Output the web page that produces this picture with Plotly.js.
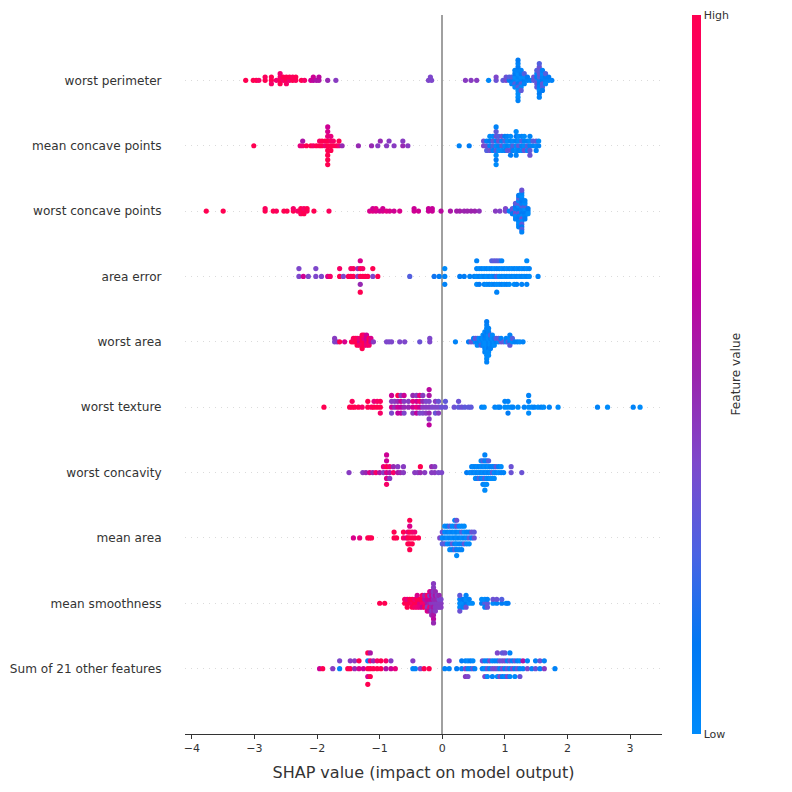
<!DOCTYPE html>
<html>
<head>
<meta charset="utf-8">
<script src="https://cdn.plot.ly/plotly-3.0.1.min.js"></script>
<style>html,body{margin:0;padding:0;background:#fff;}#chart{width:792px;height:792px;}</style>
</head>
<body>
<div id="chart"></div>
<script>
// Feature names, top to bottom
const featureNames = ['worst perimeter','mean concave points','worst concave points','area error','worst area','worst texture','worst concavity','mean area','mean smoothness','Sum of 21 other features'];

// SHAP values (x) and normalized feature values (colour) per feature
const shapWorstPerimeter = [
-3.14,-3.02,-2.97,-2.93,-2.83,-2.83,-2.73,-2.73,-2.73,-2.65,
-2.59,-2.59,-2.59,-2.59,-2.54,-2.54,-2.49,-2.49,-2.49,-2.44,
-2.44,-2.39,-2.39,-2.34,-2.34,-2.25,-2.20,-2.10,-2.06,-2.06,
-2.01,-1.97,-1.97,-1.83,-1.70,
-0.22,-0.19,-0.17,
0.37,0.46,0.55,0.74,0.86,0.86,0.97,1.02,1.02,1.07,1.07,
1.11,1.11,1.11,
1.16,1.16,1.16,1.16,1.16,1.16,
1.21,1.21,1.21,1.21,1.21,1.21,1.21,1.21,1.21,1.21,1.21,1.21,1.21,
1.26,1.26,1.26,1.26,1.26,1.26,1.26,
1.31,1.31,1.31,1.31,
1.36,1.36,
1.41,
1.46,1.46,
1.51,1.51,1.51,1.51,1.51,1.51,
1.55,1.55,1.55,1.55,1.55,1.55,1.55,1.55,1.55,1.55,1.55,
1.60,1.60,1.60,1.60,1.60,1.60,1.60,
1.65,1.65,1.65,1.65,
1.70,1.70,
1.75];
const valWorstPerimeter = [
1.0,1.0,1.0,0.9,1.0,0.95,1.0,1.0,0.9,0.85,
1.0,0.9,1.0,0.85,0.9,1.0,1.0,1.0,0.9,0.85,
1.0,1.0,0.95,0.95,1.0,1.0,0.9,0.67,0.6,0.67,
0.55,0.55,0.6,0.48,0.42,
0.38,0.38,0.38,
0.42,0.42,0.42,0.02,0.33,0.38,0.3,0.38,0.33,0.1,0.27,
0.1,0.27,0.05,
0.05,0.0,0.27,0.1,0.0,0.05,
0.0,0.05,0.1,0.0,0.27,0.05,0.0,0.1,0.0,0.05,0.0,0.1,0.05,
0.05,0.0,0.27,0.1,0.0,0.05,0.3,
0.1,0.0,0.05,0.27,
0.05,0.1,
0.05,
0.3,0.33,
0.27,0.1,0.33,0.05,0.3,0.27,
0.05,0.27,0.1,0.33,0.05,0.3,0.0,0.33,0.1,0.27,0.05,
0.1,0.05,0.3,0.0,0.27,0.05,0.1,
0.05,0.1,0.0,0.27,
0.05,0.1,
0.05];

const shapMeanConcavePoints = [
-3.01,-2.27,-2.23,-2.23,-2.17,-2.10,-2.06,-2.01,-1.96,-1.96,-1.92,-1.92,-1.87,-1.87,
-1.83,-1.83,-1.83,-1.83,-1.83,-1.83,-1.83,-1.83,-1.83,
-1.78,-1.78,-1.78,-1.78,-1.74,-1.74,-1.69,-1.65,-1.65,-1.60,
-1.34,-1.13,-1.03,-0.99,-0.89,-0.85,-0.77,-0.63,-0.63,-0.55,
0.27,0.43,0.66,0.66,0.71,0.71,0.71,0.76,0.76,0.76,0.76,0.81,0.81,0.81,0.81,
0.86,0.86,0.86,0.86,0.86,0.86,0.86,0.86,0.86,
0.90,0.90,0.90,0.90,0.95,0.95,0.95,0.95,1.00,1.00,1.00,1.00,1.04,1.04,1.04,1.04,
1.09,1.09,1.09,1.09,1.09,1.13,1.13,1.13,1.18,1.18,1.18,1.18,1.18,1.18,
1.22,1.22,1.22,1.22,1.27,1.27,1.27,1.27,1.31,1.31,1.31,1.31,1.36,1.36,1.36,
1.40,1.40,1.40,1.40,1.40,1.45,1.45,1.50,1.50,1.50,1.54,1.54];
const valMeanConcavePoints = [
1.0,0.8,0.85,0.55,1.0,1.0,0.9,1.0,1.0,0.9,1.0,1.0,0.85,1.0,
1.0,1.0,1.0,0.8,1.0,0.72,1.0,0.67,1.0,
1.0,0.9,1.0,0.8,1.0,0.9,1.0,0.85,1.0,0.48,
0.48,0.48,0.42,0.48,0.42,0.42,0.42,0.48,0.42,0.42,
0.05,0.1,0.38,0.33,0.33,0.05,0.27,0.05,0.1,0.33,0.0,0.27,0.3,0.05,0.0,
0.0,0.05,0.27,0.33,0.0,0.3,0.1,0.05,0.0,
0.05,0.33,0.0,0.27,0.3,0.05,0.0,0.33,0.0,0.27,0.05,0.1,0.05,0.0,0.3,0.05,
0.0,0.05,0.33,0.0,0.1,0.27,0.0,0.05,0.0,0.05,0.0,0.1,0.05,0.0,
0.3,0.0,0.05,0.0,0.05,0.27,0.0,0.05,0.0,0.05,0.33,0.0,0.27,0.05,0.0,
0.05,0.0,0.3,0.05,0.33,0.05,0.27,0.0,0.3,0.05,0.05,0.0];

const shapWorstConcavePoints = [
-3.77,-3.50,-2.83,-2.83,-2.70,-2.65,-2.53,-2.48,-2.38,-2.38,-2.31,-2.26,-2.26,-2.26,-2.21,-2.21,-2.21,-2.16,-2.16,-2.05,-1.81,
-1.16,-1.11,-1.11,-1.06,-1.06,-1.00,-0.95,-0.95,-0.89,-0.84,-0.77,-0.68,-0.45,-0.45,-0.38,-0.22,-0.22,-0.16,-0.16,-0.02,
0.13,0.23,0.28,0.35,0.40,0.46,0.52,0.59,0.85,0.92,1.01,1.01,1.07,
1.12,1.12,1.12,
1.17,1.17,1.17,1.17,1.17,1.17,1.17,
1.22,1.22,1.22,1.22,1.22,1.22,1.22,1.22,1.22,1.22,1.22,1.22,1.22,
1.27,1.27,1.27,1.27,1.27,1.27,1.27,1.27,1.27,1.27,1.27,1.27,1.27,1.27,1.27,1.27,1.27,
1.32,1.32,1.32,1.32,1.32,1.32,1.32,1.32,
1.37,1.37,1.37];
const valWorstConcavePoints = [
1.0,1.0,1.0,0.95,1.0,0.95,1.0,1.0,1.0,0.9,0.9,1.0,1.0,0.95,1.0,0.9,1.0,0.95,1.0,1.0,0.95,
0.72,0.76,0.68,0.72,0.76,0.68,0.72,0.68,0.76,0.72,0.68,0.72,0.68,0.66,0.68,0.66,0.64,0.66,0.64,0.6,
0.55,0.52,0.52,0.5,0.5,0.5,0.5,0.46,0.42,0.4,0.38,0.38,0.05,
0.33,0.3,0.1,
0.27,0.05,0.33,0.1,0.0,0.3,0.05,
0.05,0.1,0.33,0.0,0.05,0.3,0.1,0.0,0.05,0.27,0.0,0.1,0.05,
0.0,0.05,0.1,0.27,0.0,0.05,0.33,0.1,0.0,0.05,0.3,0.0,0.1,0.05,0.27,0.33,0.05,
0.05,0.0,0.1,0.27,0.05,0.0,0.1,0.05,
0.05,0.1,0.0];

const shapAreaError = [
-2.29,-2.29,-2.22,-2.14,-2.02,-2.02,-1.93,-1.83,-1.79,-1.64,-1.64,-1.58,-1.50,-1.46,-1.46,-1.42,-1.42,-1.35,-1.35,
-1.31,-1.31,-1.31,-1.31,-1.31,-1.27,-1.27,-1.23,-1.19,-1.11,-1.11,-1.03,
-0.52,-0.13,-0.05,0.04,0.04,0.04,
0.28,0.35,0.44,0.51,
0.55,0.55,0.55,0.55,0.59,0.59,0.59,0.63,0.63,0.67,0.67,0.67,0.71,0.71,0.71,0.75,0.75,0.75,
0.79,0.79,0.79,0.79,0.83,0.83,0.83,0.83,0.87,0.87,0.87,0.87,0.87,0.91,0.91,0.91,0.91,
0.95,0.95,0.95,0.95,0.99,0.99,0.99,1.03,1.03,1.03,1.07,1.07,1.07,1.11,1.11,
1.15,1.15,1.15,1.19,1.19,1.19,1.23,1.23,1.27,1.27,1.27,1.31,1.31,1.35,1.35,1.35,1.35,1.39,1.39,
1.53];
const valAreaError = [
0.38,0.38,0.67,0.38,0.38,0.38,0.38,0.72,0.9,1.0,0.9,0.38,0.95,1.0,0.9,1.0,0.95,0.42,0.48,
1.0,1.0,0.48,0.72,1.0,1.0,0.9,1.0,1.0,0.38,1.0,1.0,
0.27,0.15,0.1,0.05,0.0,0.05,
0.1,0.1,0.05,0.05,
0.0,0.05,0.0,0.05,0.05,0.0,0.1,0.0,0.05,0.05,0.0,0.05,0.0,0.05,0.0,0.05,0.0,0.05,
0.0,0.05,0.0,0.27,0.05,0.0,0.05,0.3,0.27,0.05,0.0,0.3,0.05,0.0,0.05,0.0,0.27,
0.05,0.0,0.05,0.05,0.0,0.05,0.0,0.05,0.0,0.05,0.0,0.05,0.0,0.05,0.0,
0.0,0.05,0.0,0.05,0.0,0.05,0.0,0.05,0.05,0.0,0.05,0.0,0.05,0.05,0.0,0.05,0.0,0.0,0.05,
0.05];

const shapWorstArea = [
-1.72,-1.72,-1.68,-1.64,-1.56,-1.45,-1.42,-1.42,-1.39,-1.39,-1.36,-1.36,-1.36,-1.32,-1.32,-1.32,
-1.28,-1.28,-1.28,-1.28,-1.28,-1.25,-1.25,-1.25,-1.25,-1.21,-1.21,-1.21,-1.21,-1.17,-1.17,-1.17,-1.14,-1.14,-1.10,
-0.89,-0.85,-0.81,-0.68,-0.60,-0.36,-0.20,-0.20,
0.21,0.42,0.46,0.50,0.50,0.53,0.53,0.56,0.56,0.56,0.59,0.59,0.62,0.62,0.62,0.65,0.65,0.65,0.65,
0.68,0.68,0.68,0.68,0.68,0.68,0.68,
0.71,0.71,0.71,0.71,0.71,0.71,0.71,0.71,0.71,0.71,0.71,0.71,0.71,
0.74,0.74,0.74,0.74,0.74,0.74,0.74,0.74,0.74,
0.77,0.77,0.77,0.77,0.77,0.80,0.80,0.80,0.80,0.83,0.83,0.83,0.86,0.86,
0.90,0.90,0.94,0.94,0.98,1.02,1.02,1.05,1.08,1.08,1.08,1.08,1.12,1.12,1.16,1.20,1.24,1.29];
const valWorstArea = [
0.38,0.42,0.42,1.0,0.72,1.0,1.0,0.9,1.0,1.0,1.0,0.95,1.0,0.67,0.8,0.9,
1.0,1.0,0.9,1.0,1.0,1.0,0.8,1.0,0.9,0.72,0.67,0.8,0.67,1.0,1.0,0.9,0.67,0.72,0.42,
0.38,0.38,0.38,0.38,0.38,0.33,0.38,0.38,
0.05,0.1,0.33,0.3,0.05,0.0,0.33,0.05,0.27,0.0,0.05,0.0,0.0,0.05,0.27,0.05,0.0,0.05,0.0,
0.0,0.05,0.0,0.1,0.05,0.0,0.05,
0.0,0.05,0.0,0.05,0.0,0.1,0.0,0.05,0.0,0.05,0.0,0.1,0.05,
0.05,0.0,0.05,0.0,0.1,0.05,0.0,0.05,0.0,
0.0,0.05,0.0,0.27,0.05,0.05,0.0,0.05,0.0,0.0,0.05,0.0,0.05,0.27,
0.0,0.3,0.33,0.05,0.3,0.0,0.05,0.27,0.05,0.0,0.3,0.05,0.0,0.27,0.05,0.05,0.0,0.05];

const shapWorstTexture = [
-1.89,-1.48,-1.44,-1.44,-1.40,-1.34,-1.28,-1.19,-1.19,-1.13,-1.09,-1.09,-1.04,-1.04,-0.99,-0.99,-0.99,
-0.81,-0.81,-0.81,-0.81,-0.76,-0.76,-0.71,-0.71,-0.71,-0.71,-0.66,-0.66,-0.66,-0.66,-0.61,-0.61,-0.61,-0.61,
-0.54,-0.54,-0.47,-0.47,-0.47,-0.47,-0.41,-0.41,-0.41,-0.41,-0.36,-0.36,-0.36,-0.36,-0.31,-0.31,-0.31,-0.31,
-0.26,-0.26,-0.26,-0.21,-0.21,-0.21,-0.21,-0.21,-0.21,-0.21,-0.16,-0.11,-0.11,-0.11,-0.06,-0.06,-0.06,-0.01,
0.05,0.05,0.19,0.26,0.26,0.31,0.36,0.42,0.46,
0.63,0.67,0.84,0.89,0.92,1.00,1.00,1.05,1.05,1.05,1.10,1.13,1.21,1.31,1.38,1.38,1.38,1.38,
1.43,1.47,1.53,1.58,1.62,1.71,1.85,2.48,2.64,3.05,3.16];
const valWorstTexture = [
1.0,1.0,1.0,0.95,1.0,1.0,0.9,1.0,1.0,0.95,1.0,0.8,1.0,0.9,1.0,0.95,0.9,
0.67,0.42,0.38,0.67,0.48,0.42,0.67,0.48,0.62,1.0,0.62,0.67,0.62,0.42,0.48,0.42,0.38,0.67,
0.48,0.42,0.67,0.8,0.42,0.48,0.8,0.67,0.62,0.42,0.67,0.85,0.38,0.8,0.42,0.48,0.38,0.42,
0.42,0.38,0.42,0.42,0.38,0.48,0.55,0.42,0.6,0.62,0.38,0.38,0.42,0.33,0.38,0.33,0.42,0.33,
0.33,0.3,0.33,0.3,0.33,0.33,0.3,0.3,0.3,
0.05,0.0,0.05,0.0,0.05,0.0,0.05,0.0,0.05,0.1,0.0,0.05,0.0,0.05,0.0,0.05,0.0,0.05,
0.0,0.05,0.0,0.05,0.0,0.05,0.0,0.05,0.0,0.05,0.0];

const shapWorstConcavity = [
-1.49,-1.27,-1.22,-1.16,-1.11,-1.06,-1.00,-0.94,-0.94,
-0.89,-0.89,-0.89,-0.89,-0.89,-0.89,-0.84,-0.84,-0.84,-0.78,-0.78,-0.71,-0.71,-0.67,-0.62,-0.62,
-0.44,-0.39,-0.35,-0.35,-0.28,-0.17,-0.17,-0.12,-0.12,-0.06,-0.01,
0.39,0.44,0.47,0.47,0.50,0.50,0.53,0.53,0.53,0.56,0.56,0.56,0.59,0.59,0.59,0.62,0.62,0.62,0.62,
0.65,0.65,0.65,0.65,0.65,0.68,0.68,0.68,0.68,0.68,0.68,0.68,0.71,0.71,0.71,0.71,0.71,
0.74,0.74,0.74,0.74,0.77,0.77,0.77,0.80,0.80,0.80,0.83,0.83,0.83,0.86,0.86,0.90,0.90,0.94,0.94,0.98,
1.10,1.10,1.27];
const valWorstConcavity = [
0.42,0.42,0.48,0.72,0.48,0.9,0.55,0.42,0.8,
0.72,1.0,0.72,0.67,0.9,0.67,0.55,0.85,0.42,0.9,0.48,0.55,0.42,0.48,0.42,0.42,
0.42,0.42,0.48,1.0,0.42,0.42,0.48,0.42,0.42,0.38,0.38,
0.1,0.05,0.0,0.05,0.05,0.0,0.0,0.05,0.0,0.05,0.0,0.05,0.0,0.05,0.27,0.05,0.0,0.05,0.0,
0.0,0.05,0.0,0.27,0.05,0.05,0.0,0.3,0.05,0.0,0.05,0.0,0.0,0.05,0.0,0.05,0.0,
0.05,0.0,0.05,0.27,0.0,0.05,0.0,0.3,0.05,0.0,0.0,0.05,0.0,0.05,0.3,0.0,0.05,0.05,0.0,0.05,
0.33,0.33,0.33];

const shapMeanArea = [
-1.42,-1.32,-1.19,-1.16,-1.13,-0.77,-0.77,-0.73,-0.62,-0.62,-0.57,
-0.55,-0.55,-0.55,-0.52,-0.52,-0.52,-0.52,-0.52,-0.52,-0.48,-0.48,-0.48,-0.44,-0.44,-0.38,
-0.04,0.00,0.00,0.00,0.04,0.04,0.04,0.04,0.08,0.08,0.08,0.08,0.12,0.12,0.12,0.12,0.12,
0.16,0.16,0.16,0.16,0.16,0.20,0.20,0.20,0.20,0.20,0.20,0.23,0.23,0.23,0.23,0.23,0.23,0.23,
0.27,0.27,0.27,0.27,0.27,0.31,0.31,0.31,0.31,0.31,0.35,0.35,0.35,0.35,0.39,0.39,0.39,
0.43,0.43,0.43,0.47,0.47,0.51,0.51];
const valMeanArea = [
0.72,0.8,1.0,1.0,1.0,1.0,1.0,1.0,0.9,1.0,0.72,
1.0,0.8,1.0,1.0,1.0,1.0,0.72,1.0,1.0,1.0,0.9,1.0,1.0,0.85,1.0,
0.38,0.0,0.33,0.27,0.05,0.0,0.3,0.0,0.0,0.05,0.0,0.05,0.05,0.0,0.05,0.27,0.0,
0.0,0.05,0.3,0.0,0.05,0.05,0.0,0.05,0.0,0.3,0.05,0.0,0.05,0.0,0.33,0.05,0.33,0.0,
0.05,0.0,0.05,0.0,0.05,0.0,0.27,0.05,0.0,0.05,0.05,0.0,0.3,0.0,0.0,0.05,0.0,
0.3,0.05,0.0,0.05,0.33,0.33,0.3];

const shapMeanSmoothness = [
-1.00,-0.92,-0.60,-0.60,-0.56,-0.56,-0.56,-0.52,-0.52,-0.48,-0.48,-0.48,-0.44,-0.44,-0.44,
-0.40,-0.40,-0.40,-0.40,-0.36,-0.36,-0.36,-0.32,-0.32,-0.32,-0.32,-0.28,-0.28,-0.28,-0.28,
-0.24,-0.24,-0.24,-0.24,-0.24,-0.20,-0.20,-0.20,-0.20,-0.20,-0.20,
-0.17,-0.17,-0.17,-0.17,-0.17,-0.17,-0.17,
-0.14,-0.14,-0.14,-0.14,-0.14,-0.14,-0.14,-0.14,-0.14,-0.14,-0.14,
-0.11,-0.11,-0.11,-0.11,-0.11,-0.11,-0.08,-0.08,-0.08,-0.08,-0.05,-0.05,-0.05,-0.05,-0.02,-0.02,-0.02,
0.28,0.28,0.28,0.28,0.28,0.33,0.33,0.33,0.38,0.38,0.38,0.38,0.43,0.43,0.48,
0.63,0.63,0.68,0.68,0.68,0.72,0.72,0.72,0.81,0.81,0.87,0.87,0.95,0.95,1.02,1.05];
const valMeanSmoothness = [
1.0,1.0,1.0,0.9,1.0,0.8,1.0,1.0,1.0,0.9,1.0,1.0,1.0,0.85,0.9,
1.0,1.0,0.85,0.72,0.72,1.0,0.8,0.9,1.0,0.67,0.9,0.85,0.55,1.0,0.48,
0.55,0.67,0.42,0.9,0.72,0.48,0.67,0.85,0.42,0.55,0.72,
0.42,0.6,0.48,0.67,0.42,0.55,0.48,
0.42,0.48,0.55,0.42,0.48,0.42,0.55,0.42,0.6,0.42,0.48,
0.42,0.48,0.42,0.55,0.42,0.48,0.42,0.48,0.42,0.42,0.42,0.38,0.42,0.48,0.42,0.38,0.42,
0.0,0.05,0.0,0.3,0.33,0.0,0.1,0.05,0.1,0.0,0.33,0.05,0.0,0.05,0.0,
0.1,0.0,0.27,0.0,0.05,0.3,0.05,0.33,0.0,0.33,0.05,0.33,0.1,0.27,0.05,0.1];

const shapOtherFeatures = [
-1.96,-1.91,-1.75,-1.64,-1.64,-1.51,-1.47,-1.47,-1.40,-1.40,-1.33,-1.33,-1.26,
-1.19,-1.19,-1.19,-1.19,-1.19,-1.15,-1.15,-1.15,-1.15,-1.10,-1.10,-1.04,-1.04,-0.98,-0.98,-0.90,-0.90,-0.82,-0.82,-0.75,
-0.47,-0.47,-0.43,-0.35,-0.29,-0.21,
0.04,0.11,0.11,0.23,0.31,0.31,0.37,0.37,0.37,0.41,0.41,0.41,0.45,0.45,0.49,0.49,0.52,
0.64,0.64,0.68,0.68,0.68,0.72,0.72,0.72,0.76,0.76,0.80,0.80,0.80,0.84,0.84,0.88,0.88,0.88,0.88,
0.92,0.92,0.92,0.96,0.96,0.96,0.96,1.00,1.00,1.00,1.00,1.04,1.04,1.04,1.08,1.08,1.08,1.08,
1.12,1.12,1.16,1.16,1.16,1.20,1.20,1.24,1.24,1.24,1.29,1.29,
1.36,1.36,1.43,1.49,1.49,1.56,1.56,1.63,1.63,1.80];
const valOtherFeatures = [
0.67,1.0,0.42,0.05,0.38,1.0,1.0,0.42,0.48,0.42,0.72,1.0,0.67,
1.0,0.05,0.72,1.0,1.0,1.0,0.85,1.0,0.55,1.0,0.48,1.0,0.9,1.0,1.0,0.55,0.9,0.67,0.42,0.8,
0.05,0.42,0.05,0.38,1.0,1.0,
0.05,0.05,0.42,0.1,0.05,0.1,0.38,0.05,0.42,0.05,0.0,0.38,0.05,0.1,0.33,0.0,0.05,
0.05,0.33,0.0,0.05,0.38,0.33,0.05,0.0,0.05,0.38,0.33,0.0,0.05,0.38,0.05,0.33,0.05,0.0,0.38,
0.05,0.33,0.38,0.38,0.33,0.05,0.3,0.05,0.38,0.0,0.33,0.33,0.05,0.38,0.05,0.33,0.0,0.05,
0.38,0.05,0.05,0.33,0.0,0.33,0.05,0.05,0.0,0.33,0.05,0.55,
0.38,0.05,0.05,0.33,0.05,0.05,0.33,0.42,0.05,0.05];

const shapByFeature = [shapWorstPerimeter, shapMeanConcavePoints, shapWorstConcavePoints, shapAreaError, shapWorstArea,
  shapWorstTexture, shapWorstConcavity, shapMeanArea, shapMeanSmoothness, shapOtherFeatures];
const valByFeature = [valWorstPerimeter, valMeanConcavePoints, valWorstConcavePoints, valAreaError, valWorstArea,
  valWorstTexture, valWorstConcavity, valMeanArea, valMeanSmoothness, valOtherFeatures];

// SHAP red_blue colormap (LCH interpolation, sampled)
const redBlue = [
  [0.0,'rgb(0,139,251)'],[0.125,'rgb(0,120,243)'],[0.25,'rgb(75,99,227)'],[0.375,'rgb(125,73,204)'],
  [0.5,'rgb(155,35,173)'],[0.625,'rgb(194,0,156)'],[0.75,'rgb(224,0,134)'],[0.875,'rgb(245,0,109)'],[1.0,'rgb(255,0,81)']];

// beeswarm layout, as in shap's summary plot
function swarmOffsets(xs, rowHeight) {
  const N = xs.length, nbins = 100;
  const mn = Math.min(...xs), mx = Math.max(...xs);
  const quant = xs.map(v => Math.round(nbins * (v - mn) / (mx - mn + 1e-8)));
  const inds = xs.map((_, i) => i).sort((a, b) => (quant[a] - quant[b]) || (a - b));
  const ys = new Array(N).fill(0);
  let layer = 0, last = -1;
  for (const i of inds) {
    if (quant[i] !== last) layer = 0;
    ys[i] = Math.ceil(layer / 2) * ((layer % 2) * 2 - 1);
    layer++;
    last = quant[i];
  }
  const m = Math.max(...ys.map(y => y + 1));
  return ys.map(y => y * 0.9 * (rowHeight / m));
}

const nF = featureNames.length;
const traces = [];
featureNames.forEach((name, i) => {
  const xs = shapByFeature[i];
  let cs = valByFeature[i].slice();
  if (cs.length !== xs.length) { console.warn(name, xs.length, cs.length); while (cs.length < xs.length) cs.push(0.5); cs = cs.slice(0, xs.length); }
  const pos = nF - 1 - i;
  const off = swarmOffsets(xs, 0.4);
  const t = {
    type: 'scatter', mode: 'markers', x: xs, y: off.map(o => pos + o),
    hoverinfo: 'skip', showlegend: false,
    marker: { size: 5.2, color: cs, colorscale: redBlue, cmin: 0, cmax: 1, line: { width: 0 }, showscale: i === 0 }
  };
  if (i === 0) {
    t.marker.colorbar = {
      x: 1.063, xanchor: 'left', y: 0.5, yanchor: 'middle', len: 1, lenmode: 'fraction',
      thickness: 9, thicknessmode: 'pixels', xpad: 0, ypad: 0, outlinewidth: 0,
      tickvals: [0, 1], ticktext: ['Low', 'High'], ticks: '', tickfont: { size: 11, color: '#333' }
    };
  }
  traces.push(t);
});

const layout = {
  width: 792, height: 792,
  margin: { l: 185, r: 130, t: 15, b: 58 },
  paper_bgcolor: '#fff', plot_bgcolor: '#fff',
  font: { family: 'DejaVu Sans, sans-serif', color: '#333' },
  xaxis: {
    range: [-4.11, 3.51], tickvals: [-4, -3, -2, -1, 0, 1, 2, 3],
    ticks: 'outside', ticklen: 4, tickwidth: 1, tickcolor: '#333',
    showline: true, linecolor: '#333', linewidth: 1, mirror: false,
    showgrid: false, zeroline: true, zerolinecolor: '#a0a0a0', zerolinewidth: 2,
    tickfont: { size: 11, color: '#333' },
    title: { text: 'SHAP value (impact on model output)', font: { size: 16, color: '#333' }, standoff: 12 }
  },
  yaxis: {
    range: [-1, 10], tickvals: featureNames.map((_, i) => nF - 1 - i), ticktext: featureNames,
    ticks: 'outside', ticklen: 20, tickcolor: 'rgba(0,0,0,0)',
    showline: false, zeroline: false,
    showgrid: true, gridcolor: '#cccccc', gridwidth: 0.7, griddash: '1px,5px',
    tickfont: { size: 12.1, color: '#333' }
  },
  annotations: [{
    text: 'Feature value', xref: 'paper', yref: 'paper', x: (735 - 185) / 477, y: 0.5,
    xanchor: 'center', yanchor: 'middle', textangle: -90, showarrow: false,
    font: { size: 12.1, color: '#333' }
  }]
};

Plotly.newPlot('chart', traces, layout, { displayModeBar: false, staticPlot: true });
</script>
</body>
</html>
